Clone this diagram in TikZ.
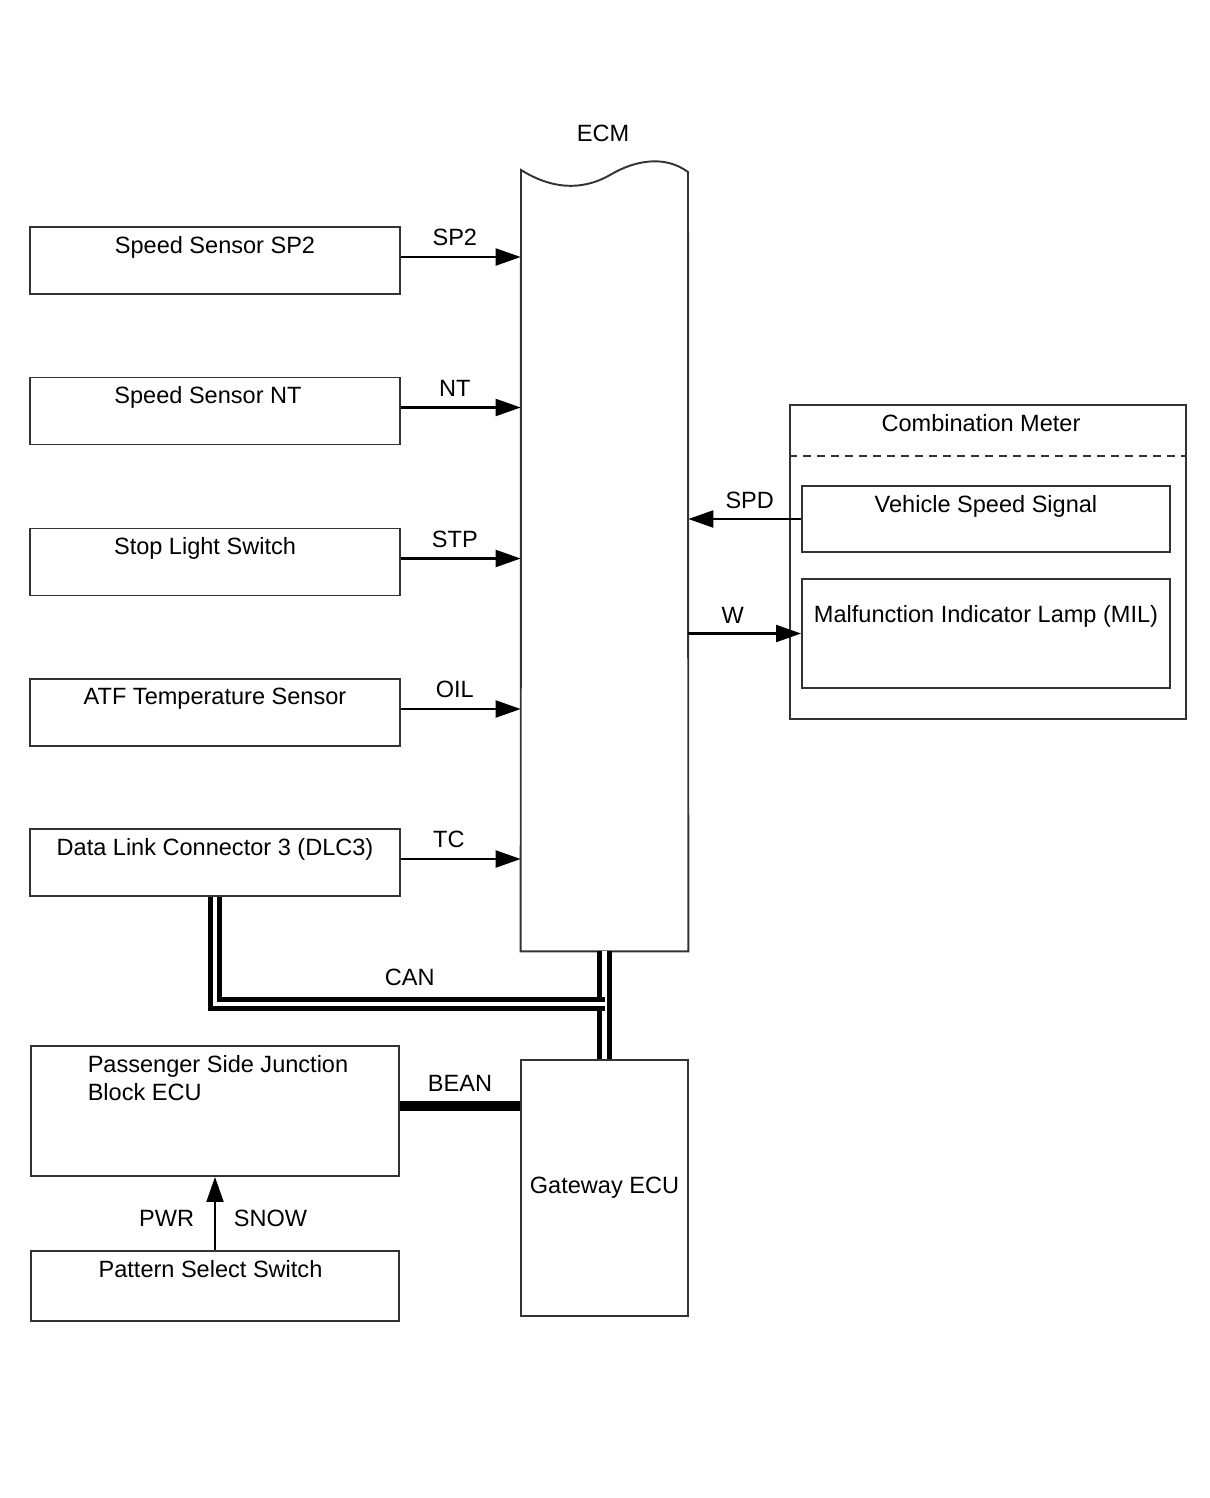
\documentclass[tikz,border=0pt]{standalone}
\usepackage{fontspec}
\setmainfont{Liberation Sans}
\usetikzlibrary{arrows.meta}

\tikzset{
  blk/.style={draw=black!80, line width=1.1pt, minimum width=7.4cm, minimum height=1.34cm, inner sep=0pt},
  lbl/.style={anchor=north, inner sep=0pt, yshift=-0.2cm},
  sig/.style={draw, line width=1.2pt, -{Triangle[length=0.5cm,width=0.34cm]}},
  siglbl/.style={pos=0.45, above=0.08cm},
  canbus/.style={draw, line width=2.8pt, double=white, double distance=2.6pt},
  beanbus/.style={draw, line width=6pt},
}

\begin{document}
\begin{tikzpicture}[x=0.02cm, y=-0.02cm, font=\fontsize{13.4}{16}\selectfont]
\useasboundingbox (0,0) rectangle (1210,1498);

% sensors on the left
\node[blk, label={[lbl]north:Speed Sensor SP2}] (sp2) at (215,260.5) {};
\node[blk, label={[lbl, xshift=-0.14cm]north:Speed Sensor NT}] (nt) at (215,411) {};
\node[blk, label={[lbl, xshift=-0.2cm]north:Stop Light Switch}] (stp) at (215,562) {};
\node[blk, label={[lbl]north:ATF Temperature Sensor}] (atf) at (215,712.5) {};
\node[blk, label={[lbl]north:Data Link Connector 3 (DLC3)}] (dlc) at (215,862.5) {};

% ECM with torn top
\node[minimum width=3.34cm, minimum height=15.62cm, inner sep=0pt] (ecm) at (604.5,560.5) {};
\draw[draw=black!80, line width=1.1pt] (ecm.south west) -- (521,170)
  .. controls (550,188) and (580,192) .. (610,175)
  .. controls (635,160) and (665,155) .. (688,172) -- (ecm.south east) -- cycle;
\node (ecmt) at (603,133) {ECM};

% combination meter
\node[draw=black!80, line width=1.1pt, minimum width=7.92cm, minimum height=6.28cm, inner sep=0pt,
  label={[lbl, xshift=-0.14cm]north:Combination Meter}] (cmb) at (988,562) {};
\draw[black!80, line width=1pt, dash pattern=on 0.16cm off 0.12cm]
  ([yshift=-1.04cm]cmb.north west) -- ([yshift=-1.04cm]cmb.north east);
\node[blk, minimum width=7.36cm, minimum height=1.32cm, label={[lbl]north:Vehicle Speed Signal}] (vss) at (986,519) {};
\node[blk, minimum width=7.36cm, minimum height=2.18cm,
  label={[lbl, yshift=-0.34cm]north:Malfunction Indicator Lamp (MIL)}] (mil) at (986,633.5) {};

% lower blocks
\node[blk, minimum width=3.34cm, minimum height=5.12cm] (gw) at (604.5,1188) {Gateway ECU};
\node[blk, minimum width=7.36cm, minimum height=2.6cm,
  label={[lbl, align=left, xshift=0.06cm]north:Passenger Side Junction\\Block ECU}] (pjb) at (215,1111) {};
\node[blk, minimum width=7.36cm, minimum height=1.4cm,
  label={[lbl, xshift=-0.09cm]north:Pattern Select Switch}] (pss) at (215,1286) {};

% signals
\draw[sig] ([yshift=0.07cm]sp2.east) -- ([yshift=0.07cm]sp2.east -| ecm.west) node[siglbl] {SP2};
\draw[sig] ([yshift=0.07cm]nt.east) -- ([yshift=0.07cm]nt.east -| ecm.west) node[siglbl] {NT};
\draw[sig] ([yshift=0.07cm]stp.east) -- ([yshift=0.07cm]stp.east -| ecm.west) node[siglbl] {STP};
\draw[sig] ([yshift=0.07cm]atf.east) -- ([yshift=0.07cm]atf.east -| ecm.west) node[siglbl] {OIL};
\draw[sig] ([yshift=0.07cm]dlc.east) -- ([yshift=0.07cm]dlc.east -| ecm.west) node[siglbl, pos=0.4] {TC};
\draw[sig] (vss.west) -- (vss.west -| ecm.east) node[midway, above=0.06cm, xshift=0.1cm] {SPD};
\draw[sig] (mil.west -| ecm.east) -- (mil.west) node[midway, above=0.06cm, xshift=-0.24cm] {W};
\draw[sig] (pss.north) -- (pjb.south)
  node[midway, left=0.28cm, yshift=-0.1cm] {PWR} node[midway, right=0.24cm, yshift=-0.1cm] {SNOW};

% buses
\draw[canbus] (ecm.south) -- (gw.north);
\coordinate (canT) at (604.5,1004);
\draw[canbus] (dlc.south) |- (canT) node[pos=0.75, above=0.2cm] {CAN};
\draw[beanbus] ([yshift=0.1cm]pjb.east) -- ([yshift=0.1cm]pjb.east -| gw.west)
  node[midway, above=0.06cm] {BEAN};
\end{tikzpicture}
\end{document}
